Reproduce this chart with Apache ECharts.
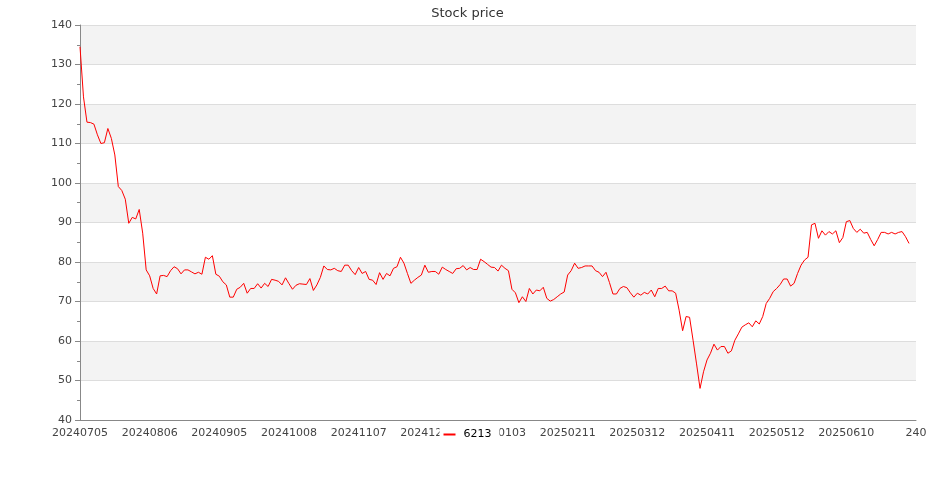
<!DOCTYPE html>
<html>
<head>
<meta charset="utf-8">
<script src="https://cdn.jsdelivr.net/npm/echarts@6/dist/echarts.min.js"></script>
<style>
html,body{margin:0;padding:0;background:#fff;}
#chart{width:935px;height:500px;}
</style>
</head>
<body>
<div id="chart"></div>
<script>
var chartTitle = 'Stock price';
var seriesName = '6213';

var dates = [
'20240705','20240708','20240709','20240710','20240711','20240712','20240715','20240716','20240717','20240718',
'20240719','20240722','20240723','20240726','20240729','20240730','20240731','20240801','20240802','20240805',
'20240806','20240807','20240808','20240809','20240812','20240813','20240814','20240816','20240819','20240820',
'20240821','20240822','20240823','20240826','20240827','20240829','20240830','20240902','20240903','20240904',
'20240905','20240906','20240909','20240910','20240911','20240912','20240913','20240916','20240918','20240919',
'20240920','20240923','20240924','20240925','20240926','20240927','20240930','20241001','20241004','20241007',
'20241008','20241009','20241011','20241014','20241015','20241016','20241017','20241018','20241021','20241022',
'20241023','20241024','20241025','20241028','20241029','20241030','20241101','20241104','20241105','20241106',
'20241107','20241108','20241111','20241112','20241113','20241114','20241115','20241118','20241119','20241120',
'20241121','20241122','20241125','20241126','20241127','20241128','20241129','20241202','20241203','20241204',
'20241205','20241206','20241209','20241210','20241211','20241212','20241213','20241216','20241217','20241218',
'20241219','20241220','20241223','20241224','20241225','20241226','20241227','20241230','20241231','20250102',
'20250103','20250106','20250107','20250108','20250109','20250110','20250113','20250114','20250115','20250116',
'20250117','20250120','20250121','20250122','20250203','20250204','20250205','20250206','20250207','20250210',
'20250211','20250212','20250213','20250214','20250217','20250218','20250219','20250220','20250221','20250224',
'20250225','20250226','20250227','20250303','20250304','20250305','20250306','20250307','20250310','20250311',
'20250312','20250313','20250314','20250317','20250318','20250319','20250320','20250321','20250324','20250325',
'20250326','20250327','20250328','20250331','20250401','20250402','20250407','20250408','20250409','20250410',
'20250411','20250414','20250415','20250416','20250417','20250418','20250421','20250422','20250423','20250424',
'20250425','20250428','20250429','20250430','20250502','20250505','20250506','20250507','20250508','20250509',
'20250512','20250513','20250514','20250515','20250516','20250519','20250520','20250521','20250522','20250523',
'20250526','20250527','20250528','20250529','20250602','20250603','20250604','20250605','20250606','20250609',
'20250610','20250611','20250612','20250613','20250616','20250617','20250618','20250619','20250620','20250623',
'20250624','20250625','20250626','20250627','20250630','20250701','20250702','20250703','20250704'
];

var prices = [
134.5,121.8,115.4,115.3,114.9,112.2,110.0,110.2,113.8,111.3,
107.1,99.1,98.1,95.9,89.8,91.3,90.9,93.3,87.3,78.0,
76.5,73.3,71.9,76.5,76.6,76.3,77.8,78.8,78.3,77.0,
78.0,78.0,77.5,77.0,77.4,76.9,81.2,80.7,81.6,76.9,
76.4,75.0,74.2,71.1,71.1,73.1,73.6,74.6,72.1,73.3,
73.3,74.5,73.4,74.6,73.8,75.6,75.4,75.1,74.2,76.0,
74.5,73.1,74.1,74.5,74.4,74.3,75.8,72.8,74.2,76.1,
79.0,78.1,78.0,78.4,77.8,77.6,79.2,79.2,77.8,76.8,
78.6,77.1,77.6,75.6,75.4,74.3,77.3,75.6,77.1,76.5,
78.4,78.8,81.2,79.7,77.1,74.6,75.4,76.1,76.7,79.2,
77.4,77.6,77.6,76.9,78.7,78.1,77.6,77.1,78.3,78.4,
79.1,78.0,78.6,78.1,78.1,80.7,80.1,79.4,78.7,78.6,
77.7,79.2,78.4,77.8,73.1,72.2,69.7,71.2,70.0,73.3,
71.9,72.9,72.7,73.6,70.8,70.1,70.5,71.2,71.9,72.4,
76.7,77.8,79.7,78.4,78.6,79.0,79.0,79.0,77.8,77.4,
76.3,77.4,74.8,71.9,71.9,73.3,73.8,73.5,72.2,71.1,
72.1,71.6,72.3,71.9,72.9,71.2,73.3,73.3,73.9,72.7,
72.7,72.1,67.8,62.6,66.2,66.0,60.2,54.2,48.0,52.2,
55.2,56.9,59.2,57.7,58.6,58.6,56.9,57.5,60.2,61.8,
63.5,64.1,64.6,63.6,65.1,64.3,66.2,69.5,70.8,72.5,
73.3,74.3,75.7,75.7,73.9,74.6,77.1,79.2,80.5,81.2,
89.4,89.8,86.0,87.9,86.8,87.7,87.1,87.9,84.9,86.2,
90.2,90.5,88.5,87.5,88.3,87.3,87.5,85.7,84.1,85.7,
87.5,87.5,87.1,87.5,87.1,87.5,87.7,86.4,84.7
];

var yMin = 40, yMax = 140, yStep = 10;
var xMin = 0, xMax = 240, xStep = 20;

var chart = echarts.init(document.getElementById('chart'), null, {renderer: 'canvas'});
var option = {
  animation: false,
  backgroundColor: '#ffffff',
  textStyle: {fontFamily: 'DejaVu Sans'},
  title: {
    text: chartTitle,
    left: 'center',
    top: 2,
    textStyle: {fontFamily: 'DejaVu Sans', fontSize: 13, fontWeight: 'normal', color: '#333'}
  },
  legend: {
    data: [seriesName],
    left: 'center',
    top: 426,
    icon: 'rect',
    itemWidth: 12,
    itemHeight: 2,
    padding: [3, 8, 3, 4],
    backgroundColor: '#ffffff',
    textStyle: {fontFamily: 'DejaVu Sans', fontSize: 11, color: '#000', padding: [0, 0, 0, 3]}
  },
  grid: {left: 80, right: 19, top: 25, bottom: 80, containLabel: false},
  xAxis: {
    type: 'value',
    min: xMin, max: xMax, interval: xStep,
    axisLine: {show: true, lineStyle: {color: '#888'}},
    axisTick: {show: false},
    splitLine: {show: false},
    axisLabel: {
      fontFamily: 'DejaVu Sans', fontSize: 11, color: '#444', margin: 8,
      formatter: function (v) { return dates[v] !== undefined ? dates[v] : String(v); }
    }
  },
  yAxis: {
    type: 'value',
    min: yMin, max: yMax, interval: yStep,
    axisLine: {show: true, lineStyle: {color: '#888'}},
    axisTick: {show: true, length: 5, lineStyle: {color: '#888'}},
    minorTick: {show: true, splitNumber: 2, length: 3, lineStyle: {color: '#888'}},
    axisLabel: {fontFamily: 'DejaVu Sans', fontSize: 11, color: '#444', margin: 8},
    splitLine: {show: true, lineStyle: {color: '#dddddd'}},
    splitArea: {show: true, areaStyle: {color: ['#ffffff', '#f3f3f3']}}
  },
  series: [{
    name: seriesName,
    type: 'line',
    symbol: 'none',
    lineStyle: {color: '#ff0000', width: 1},
    itemStyle: {color: '#ff0000'},
    data: prices.map(function (p, i) { return [i, p]; })
  }]
};
chart.setOption(option);
</script>
</body>
</html>
